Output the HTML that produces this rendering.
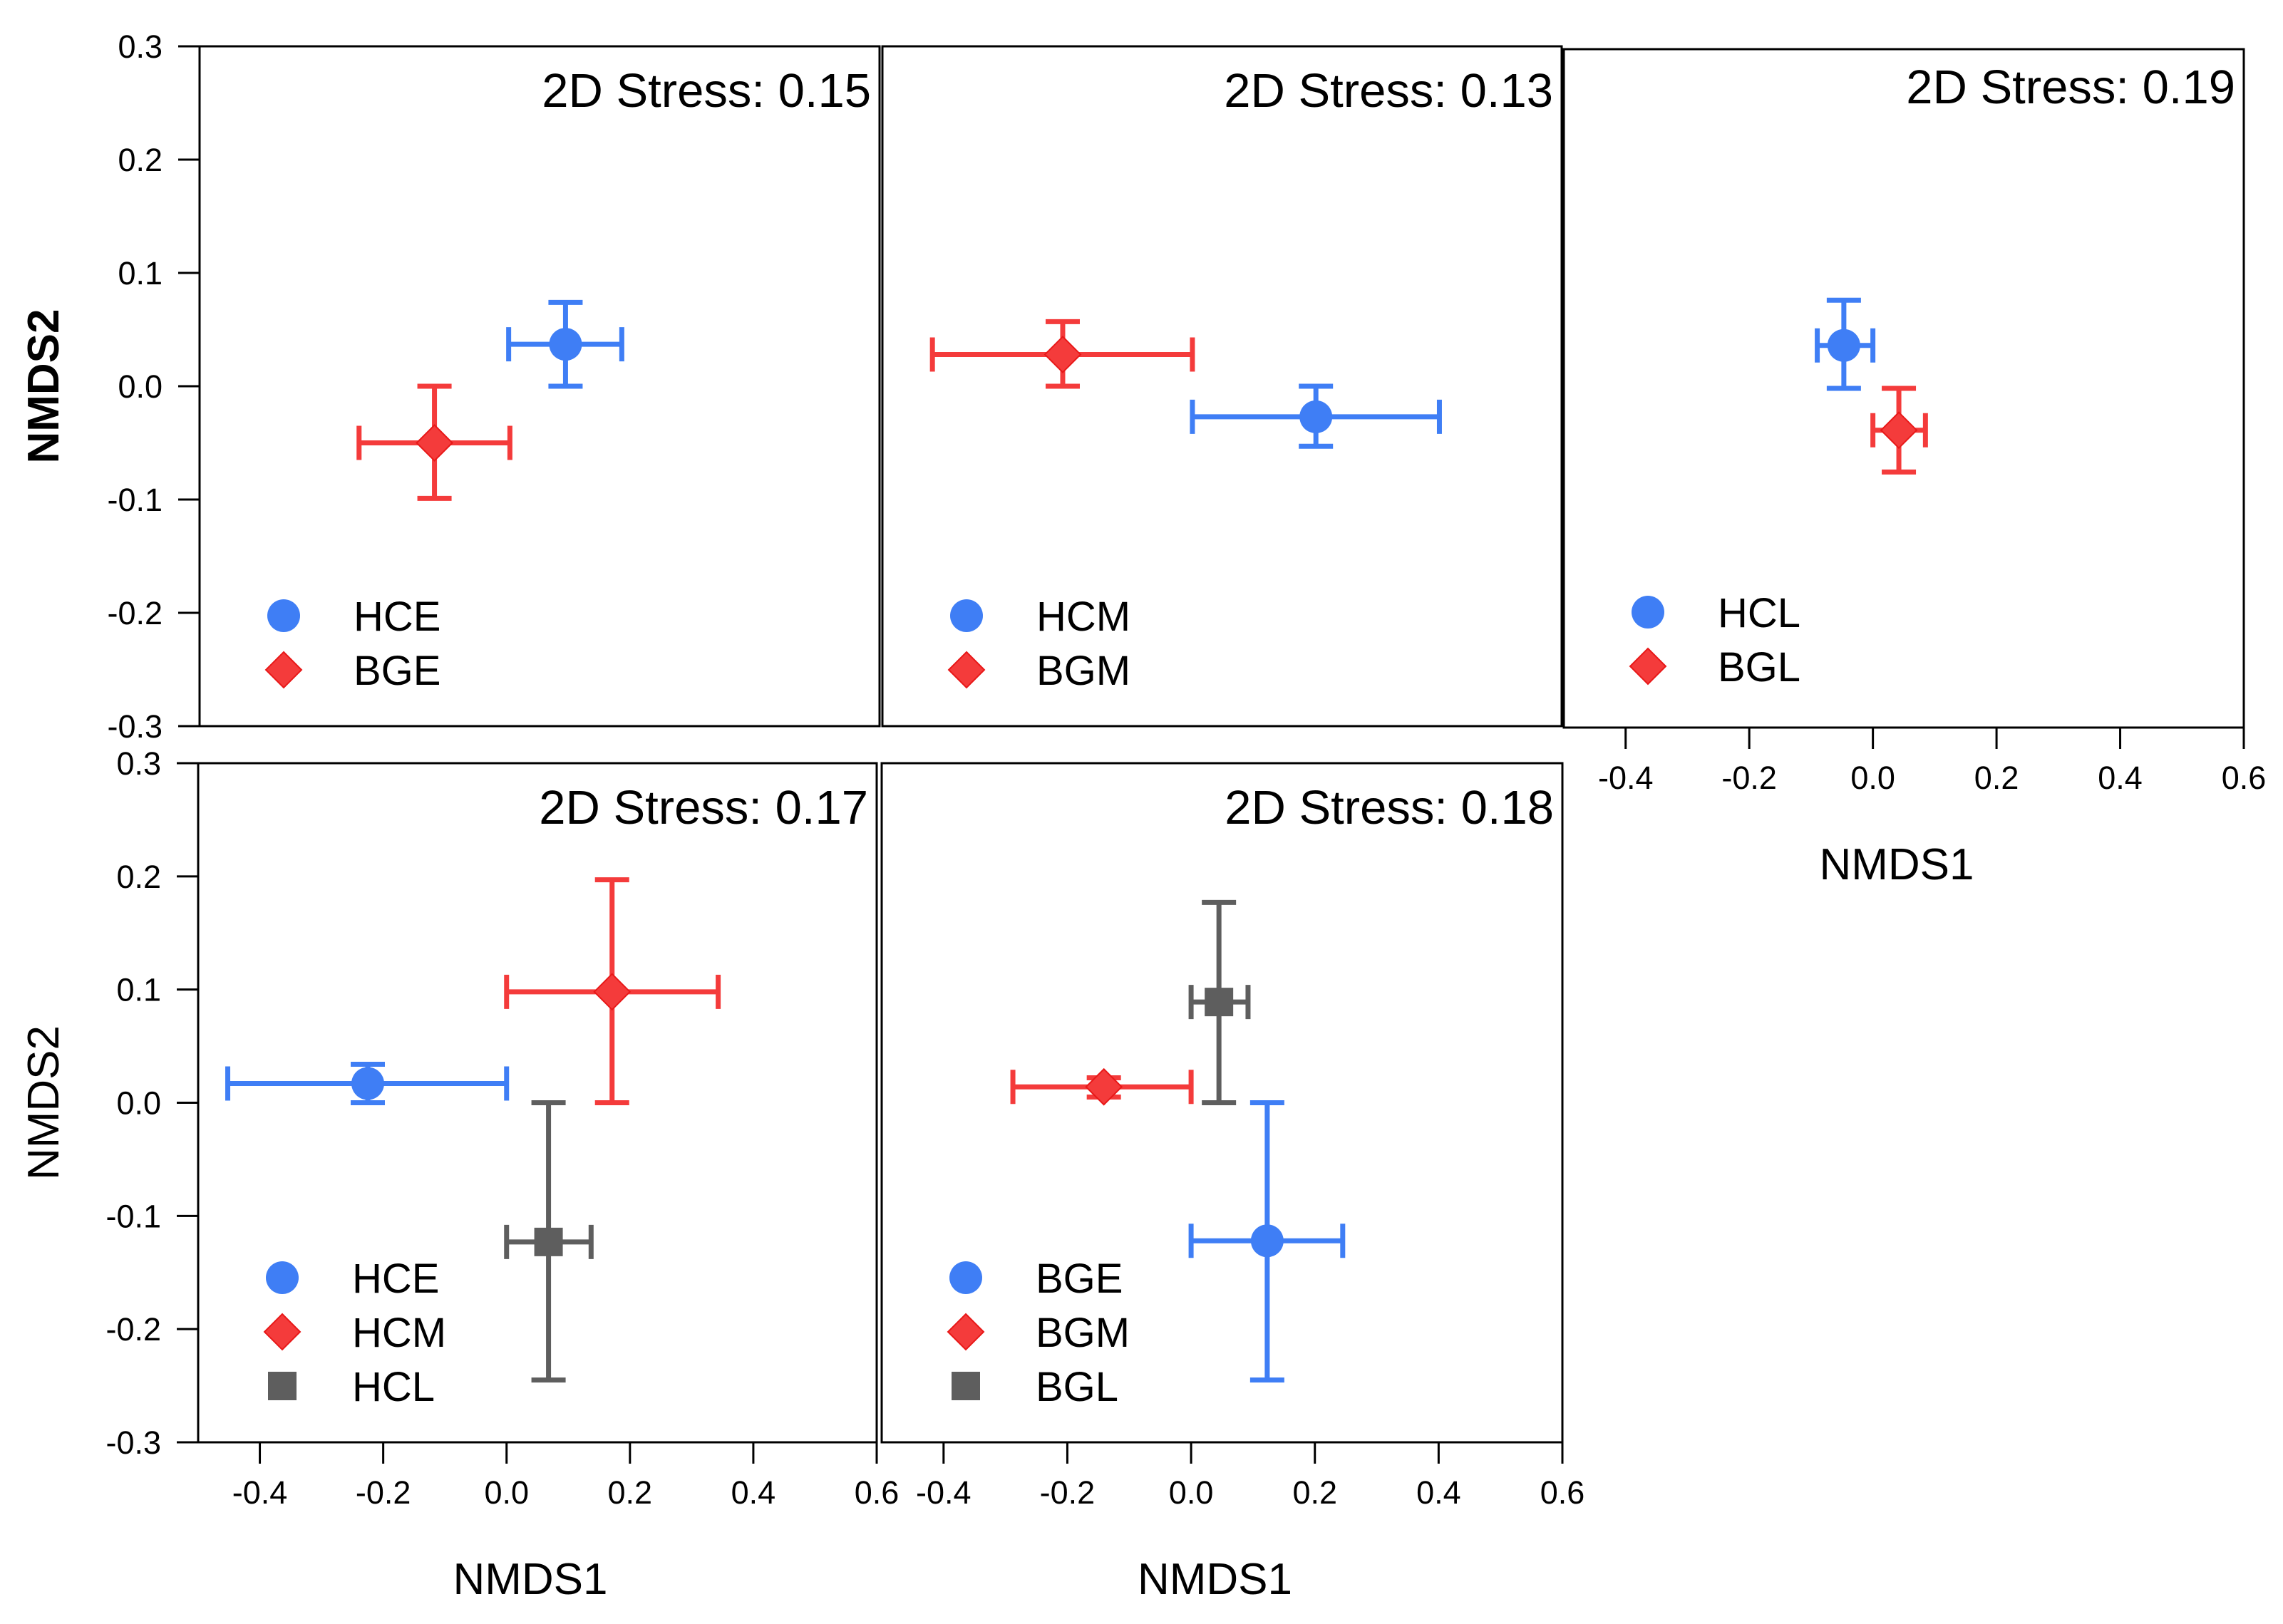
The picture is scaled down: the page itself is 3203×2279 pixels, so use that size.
<!DOCTYPE html>
<html><head><meta charset="utf-8"><style>
html,body{margin:0;padding:0;background:#fff;}
svg{display:block;font-family:"Liberation Sans",Arial,sans-serif;}
</style></head><body>
<svg id="chart" width="3203" height="2279" viewBox="0 0 3203 2279" xmlns="http://www.w3.org/2000/svg"></svg>
<script>
// ---- data ----
const panelNames = ["early", "middle", "late", "hc-stages", "bg-stages"];
const stressValues = ["0.15", "0.13", "0.19", "0.17", "0.18"];
const groupLabels = [["HCE","BGE"],["HCM","BGM"],["HCL","BGL"],["HCE","HCM","HCL"],["BGE","BGM","BGL"]];
const groupShapes = [["circle","diamond"],["circle","diamond"],["circle","diamond"],["circle","diamond","square"],["circle","diamond","square"]];
const xValues = [[0.092,-0.120],[0.202,-0.208],[-0.047,0.042],[-0.225,0.171,0.068],[0.123,-0.141,0.045]];
const yValues = [[0.037,-0.050],[-0.027,0.028],[0.038,-0.037],[0.017,0.098,-0.123],[-0.122,0.014,0.089]];
const xLow  = [[0.000,-0.242],[0.002,-0.419],[-0.090,0.000],[-0.452,0.000,0.000],[0.000,-0.288,0.000]];
const xHigh = [[0.183,0.002],[0.402,0.002],[0.000,0.085],[0.000,0.343,0.137],[0.245,0.000,0.092]];
const yLow  = [[0.000,-0.099],[-0.053,0.000],[0.000,-0.074],[0.000,0.000,-0.245],[-0.245,0.005,0.000]];
const yHigh = [[0.074,0.000],[0.000,0.057],[0.078,0.000],[0.034,0.197,0.000],[0.000,0.022,0.177]];
const xTicks = [-0.4,-0.2,0.0,0.2,0.4,0.6];
const xTickLabels = ["-0.4","-0.2","0.0","0.2","0.4","0.6"];
const yTicks = [0.3,0.2,0.1,0.0,-0.1,-0.2,-0.3];
const yTickLabels = ["0.3","0.2","0.1","0.0","-0.1","-0.2","-0.3"];

// ---- layout ----
const boxes = [
  {l:280,t:65,r:1234,b:1019,yaxis:true,xaxis:false,row:65},
  {l:1238,t:65,r:2191,b:1019,yaxis:false,xaxis:false,row:65},
  {l:2194,t:69,r:3148,b:1021,yaxis:false,xaxis:true,row:60},
  {l:278,t:1071,r:1230,b:2024,yaxis:true,xaxis:true,row:1071},
  {l:1237,t:1071,r:2192,b:2024,yaxis:false,xaxis:true,row:1071}
];
const colors = {circle:"#3f7ef5", diamond:"#f43b3b", square:"#5e5e5e"};
const XMIN=-0.5,XMAX=0.6,YMIN=-0.3,YMAX=0.3;
const NS="http://www.w3.org/2000/svg";
const svg=document.getElementById("chart");
function mk(tag,attrs,parent){const e=document.createElementNS(NS,tag);for(const k in attrs)e.setAttribute(k,attrs[k]);(parent||svg).appendChild(e);return e;}

boxes.forEach((B,pi)=>{
  const g=mk("g",{});
  
  
  const sx=v=>B.l+(v-XMIN)/(XMAX-XMIN)*(B.r-B.l);
  const sy=v=>B.b-(v-YMIN)/(YMAX-YMIN)*(B.b-B.t);
  const frame=mk("rect",{x:B.l,y:B.t,width:B.r-B.l,height:B.b-B.t,fill:"none",stroke:"#000","stroke-width":3},g);
  
  
  if(B.yaxis){
    yTicks.forEach((v,i)=>{
      const tk=mk("line",{x1:B.l-30,x2:B.l,y1:sy(v),y2:sy(v),stroke:"#000","stroke-width":3},g);
      
      
      const tl=mk("text",{x:B.l-52,y:sy(v)+16,"font-size":45,"text-anchor":"end",fill:"#000"},g);
      tl.textContent=yTickLabels[i];
      
      
    });
    const cy=(B.t+B.b)/2;
    const yt=mk("text",{x:0,y:0,"font-size":62,"text-anchor":"middle",fill:"#000","font-weight":pi===0?"bold":"normal",transform:`translate(82,${cy}) rotate(-90)`},g);
    yt.textContent="NMDS2";
    
    
  }
  if(B.xaxis){
    xTicks.forEach((v,i)=>{
      const tk=mk("line",{x1:sx(v),x2:sx(v),y1:B.b,y2:B.b+30,stroke:"#000","stroke-width":3},g);
      
      
      const tl=mk("text",{x:sx(v),y:B.b+86,"font-size":45,"text-anchor":"middle",fill:"#000"},g);
      tl.textContent=xTickLabels[i];
      
      
    });
    const xt=mk("text",{x:(B.l+B.r)/2-10,y:B.b+213,"font-size":62,"text-anchor":"middle",fill:"#000"},g);
    xt.textContent="NMDS1";
    
    
  }
  const st=mk("text",{x:B.r-12,y:B.row+85,"font-size":67,"text-anchor":"end",fill:"#000"},g);
  st.textContent="2D Stress: "+stressValues[pi];
  
  

  const n=groupLabels[pi].length;
  function marker(shape,cx,cy,parent){
    let m;
    if(shape==="circle") m=mk("circle",{cx:cx,cy:cy,r:23,fill:colors.circle},parent);
    else if(shape==="diamond") m=mk("polygon",{points:`${cx},${cy-25} ${cx+25},${cy} ${cx},${cy+25} ${cx-25},${cy}`,fill:colors.diamond,stroke:"#e81818","stroke-width":2},parent);
    else m=mk("rect",{x:cx-20,y:cy-20,width:40,height:40,fill:colors.square},parent);
    return m;
  }
  for(let k=0;k<n;k++){
    const shape=groupShapes[pi][k], c=colors[shape];
    const sg=mk("g",{},g);
    
    
    const cx=sx(xValues[pi][k]), cy=sy(yValues[pi][k]);
    const x1=sx(xLow[pi][k]), x2=sx(xHigh[pi][k]), y1=sy(yLow[pi][k]), y2=sy(yHigh[pi][k]);
    const eb=mk("path",{d:`M${x1},${cy}H${x2}M${cx},${y1}V${y2}M${x1},${cy-24}V${cy+24}M${x2},${cy-24}V${cy+24}M${cx-24},${y1}H${cx+24}M${cx-24},${y2}H${cx+24}`,stroke:c,"stroke-width":7,fill:"none"},sg);
    
    
    const m=marker(shape,cx,cy,sg);
    
    
    // legend
    const ly = n===2 ? B.row+799+k*76 : B.row+722+k*76;
    const lg=mk("g",{},g);
    
    
    const lm=marker(shape,B.l+118,ly,lg);
    
    
    const lt=mk("text",{x:B.l+216,y:ly+21,"font-size":58,fill:"#000"},lg);
    lt.textContent=groupLabels[pi][k];
    
    
  }
});
</script>
</body></html>
